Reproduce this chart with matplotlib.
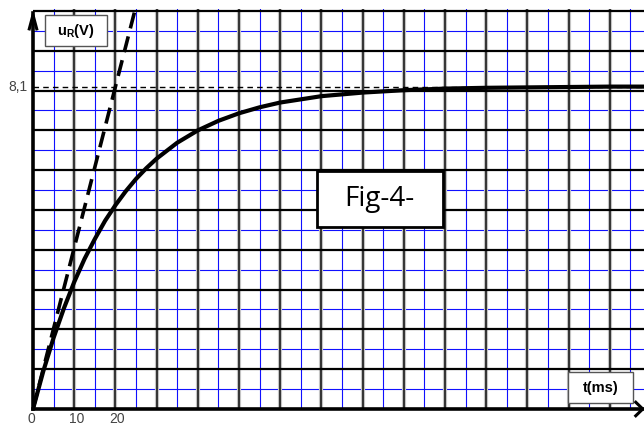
import numpy as np
import matplotlib
matplotlib.use("Agg")
import matplotlib.pyplot as plt
from matplotlib.patches import Rectangle

plt.rcParams['font.family'] = ['Liberation Sans', 'DejaVu Sans']
plt.rcParams['mathtext.fontset'] = 'custom'
plt.rcParams['mathtext.bf'] = 'Liberation Sans:bold'
plt.rcParams['mathtext.rm'] = 'Liberation Sans'

# values
t_ms = [0, 2.5, 5, 7.5, 10, 12.5, 15, 17.5, 20, 22.5, 25, 27.5, 30, 35, 40, 45,
        50, 55, 60, 70, 80, 90, 100, 110, 120, 130, 140, 148]
u_R = [0, 0.95, 1.79, 2.53, 3.19, 3.77, 4.27, 4.73, 5.12, 5.47, 5.78, 6.05, 6.29,
       6.69, 7.00, 7.24, 7.43, 7.58, 7.70, 7.86, 7.95, 8.01, 8.05, 8.07, 8.08,
       8.09, 8.10, 8.10]
tangent_t = [0, 24.7]
tangent_u = [0, 10]
u_final = 8.1
x_ticks = [0, 10, 20]

fig = plt.figure(figsize=(6.44, 4.25), dpi=100)
ax = fig.add_axes([33 / 644, 16 / 425, 611 / 644, 400 / 425])
ax.set_xlim(0, 148.3)
ax.set_ylim(0, 10.05)
ax.axis('off')

# grid paper
for x in np.arange(5, 150, 10):
    ax.axvline(x, color='#1010ff', lw=0.8, zorder=1)
for y in np.arange(0.5, 10, 1):
    ax.axhline(y, color='#1010ff', lw=0.8, zorder=1)
for x in np.arange(10, 150, 10):
    ax.axvline(x, color='#c4c4c4', lw=3, zorder=1)
    ax.axvline(x, color='#333333', lw=1.4, zorder=2)
for y in np.arange(1, 11, 1):
    ax.axhline(y, color='black', lw=1.6, zorder=2)

# axes with arrows
ax.plot([0, 148.3], [0, 0], color='black', lw=2.6, clip_on=False, zorder=5)
ax.plot([0, 0], [0, 9.95], color='black', lw=2.6, clip_on=False, zorder=5)
ax.plot([146.3, 148.0, 146.3], [0.17, 0, -0.17], color='black', lw=2.2,
        clip_on=False, zorder=5)
ax.plot([-0.9, 0, 0.9], [9.55, 9.9, 9.55], color='black', lw=2.2,
        clip_on=False, zorder=5)

# asymptote and tangent
ax.plot([0, 148.3], [u_final, u_final], color='black', lw=1,
        dashes=(4, 3), zorder=3)
ax.plot(tangent_t, tangent_u, color='black', lw=2.6, dashes=(4.5, 2.3), zorder=4)
ax.plot(t_ms, u_R, color='black', lw=3, zorder=4)

# labels
for x in x_ticks:
    ax.text(x + (0.5 if x else -0.5), -0.25, str(x), ha='center', va='center',
            fontsize=10, color='#444444')
ax.text(-1.3, u_final, '8,1', ha='right', va='center', fontsize=10,
        color='#444444')

ax.add_patch(Rectangle((2.9, 9.12), 15.1, 0.78, facecolor='white',
                       edgecolor='#555555', lw=1, zorder=6))
ax.text(10.4, 9.5, r'$\mathbf{u_R}$(V)', ha='center', va='center',
        fontsize=10.5, fontweight='bold', zorder=7)

ax.add_patch(Rectangle((129.9, 0.15), 15.7, 0.78, facecolor='white',
                       edgecolor='#555555', lw=1, zorder=6))
ax.text(137.7, 0.53, 't(ms)', ha='center', va='center', fontsize=10.5,
        fontweight='bold', zorder=7)

ax.add_patch(Rectangle((68.9, 4.58), 30.6, 1.4, facecolor='white',
                       edgecolor='black', lw=2, zorder=6))
ax.text(84.0, 5.27, 'Fig-4-', ha='center', va='center', fontsize=20,
        family=['Open Sans', 'DejaVu Sans'], zorder=7)

fig.savefig('out.png', dpi=100)
